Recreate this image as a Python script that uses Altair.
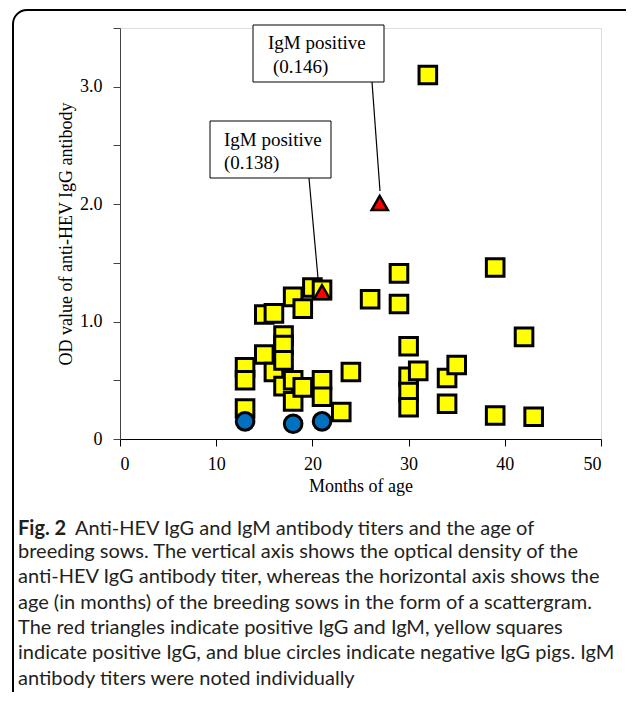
import altair as alt
import pandas as pd

# ---- data ----
sq_month = [13, 13, 13, 15, 15, 16, 16, 17, 17, 17, 17, 18, 18, 18, 19, 19, 20,
            21, 21, 21, 23, 24, 26, 29, 29, 30, 30, 30, 30, 31, 32, 34, 34, 35,
            39, 39, 42, 43]
sq_od = [0.61, 0.50, 0.26, 1.06, 0.72, 1.07, 0.57, 0.88, 0.80, 0.67, 0.45, 1.21,
         0.50, 0.32, 1.11, 0.44, 1.29, 1.27, 0.50, 0.36, 0.23, 0.57, 1.19, 1.41,
         1.15, 0.79, 0.53, 0.40, 0.27, 0.58, 3.10, 0.52, 0.30, 0.63, 1.46, 0.20,
         0.87, 0.19]
neg_month = [13, 18, 21]
neg_od = [0.15, 0.13, 0.15]
igm_month = [21, 27]
igm_od = [1.25, 2.01]
igm_titer = ["(0.138)", "(0.146)"]

x_ticks = [0, 10, 20, 30, 40, 50]
y_ticks = [0, 0.5, 1.0, 1.5, 2.0, 2.5, 3.0, 3.5]

caption_bold = "Fig. 2"
caption_first = "Anti-HEV IgG and IgM antibody titers and the age of"
caption_rest = [
    "breeding sows. The vertical axis shows the optical density of the",
    "anti-HEV IgG antibody titer, whereas the horizontal axis shows the",
    "age (in months) of the breeding sows in the form of a scattergram.",
    "The red triangles indicate positive IgG and IgM, yellow squares",
    "indicate positive IgG, and blue circles indicate negative IgG pigs. IgM",
    "antibody titers were noted individually",
]

SERIF = "Liberation Serif"
SANS = "Lato"

sq_df = pd.DataFrame({"month": sq_month, "od": sq_od})
neg_df = pd.DataFrame({"month": neg_month, "od": neg_od})
igm_df = pd.DataFrame({"month": igm_month, "od": igm_od})
one = pd.DataFrame({"k": [0]})

xs = alt.Scale(domain=[0, 50], nice=False, zero=False)
ys = alt.Scale(domain=[0, 3.5], nice=False, zero=False)

x_enc = alt.X("month:Q", scale=xs, axis=alt.Axis(
    values=x_ticks, title="Months of age", grid=False,
    domainColor="black", tickColor="black", tickSize=7, labelPadding=9,
    labelFont=SERIF, labelFontSize=18, labelColor="black",
    titleFont=SERIF, titleFontSize=18, titleFontWeight="normal",
    titleColor="black", titlePadding=4))
y_enc = alt.Y("od:Q", scale=ys, axis=alt.Axis(
    values=y_ticks, title="OD value of anti-HEV IgG antibody", grid=False,
    labelExpr="datum.value == 0 ? '0' : (datum.value % 1 == 0 ? format(datum.value, '.1f') : '')",
    domainColor="#444444", tickColor="#444444", tickSize=7, labelPadding=11,
    labelFont=SERIF, labelFontSize=18, labelColor="black",
    titleFont=SERIF, titleFontSize=18, titleFontWeight="normal",
    titleColor="black", titlePadding=4))

squares = alt.Chart(sq_df).mark_point(
    shape="square", filled=True, fill="#FFFF00", stroke="black",
    strokeWidth=3, size=310, opacity=1).encode(x=x_enc, y=y_enc)

circles = alt.Chart(neg_df).mark_point(
    shape="circle", filled=True, fill="#0070C0", stroke="black",
    strokeWidth=3, size=310, opacity=1).encode(x="month:Q", y="od:Q")

triangles = alt.Chart(igm_df).mark_point(
    shape="triangle-up", filled=True, fill="#FF0000", stroke="black",
    strokeWidth=2.5, size=260, opacity=1).encode(x="month:Q", y="od:Q")

base = alt.Chart(one)

border = base.mark_rect(fillOpacity=0, stroke="black", strokeWidth=2,
                        cornerRadius=14).encode(
    x=alt.value(-107), x2=alt.value(560), y=alt.value(-18), y2=alt.value(690))

box1 = base.mark_rect(fill="white", stroke="black", strokeWidth=1).encode(
    x=alt.value(133), x2=alt.value(264), y=alt.value(-3), y2=alt.value(54))
box2 = base.mark_rect(fill="white", stroke="black", strokeWidth=1).encode(
    x=alt.value(90), x2=alt.value(211), y=alt.value(93), y2=alt.value(150))

lead1 = base.mark_rule(color="black", strokeWidth=1.2).encode(
    x=alt.value(252), y=alt.value(54), x2=alt.value(260), y2=alt.value(163))
lead2 = base.mark_rule(color="black", strokeWidth=1.2).encode(
    x=alt.value(189), y=alt.value(150), x2=alt.value(198), y2=alt.value(250))

ann_style = dict(font=SERIF, fontSize=19, align="left", baseline="middle",
                 color="black")
t1a = base.mark_text(**ann_style).encode(
    x=alt.value(148), y=alt.value(15), text=alt.value("IgM positive"))
t1b = base.mark_text(**ann_style).encode(
    x=alt.value(153), y=alt.value(39), text=alt.value(igm_titer[1]))
t2a = base.mark_text(**ann_style).encode(
    x=alt.value(104), y=alt.value(112), text=alt.value("IgM positive"))
t2b = base.mark_text(**ann_style).encode(
    x=alt.value(104), y=alt.value(135), text=alt.value(igm_titer[0]))

cap_style = dict(font=SANS, fontSize=20, align="left", color="#231F20")
cap_b = base.mark_text(fontWeight="bold", baseline="middle", **cap_style).encode(
    x=alt.value(-102), y=alt.value(501), text=alt.value(caption_bold))
cap_1 = base.mark_text(baseline="middle", **cap_style).encode(
    x=alt.value(-45), y=alt.value(501), text=alt.value(caption_first))
cap_r = base.mark_text(lineBreak="\n", lineHeight=25.3, baseline="top",
                       **cap_style).encode(
    x=alt.value(-102), y=alt.value(514), text=alt.value("\n".join(caption_rest)))

chart = alt.layer(
    border, squares, circles, triangles, lead1, lead2, box1, box2,
    t1a, t1b, t2a, t2b, cap_b, cap_1, cap_r
).properties(
    width=481, height=411,
    autosize=alt.AutoSizeParams(type="none"),
    padding={"left": 112, "top": 20, "right": 25, "bottom": 253},
).configure_view(stroke=None).configure(background="white")

chart.save("out.html", embed_options={"renderer": "svg", "actions": False})
